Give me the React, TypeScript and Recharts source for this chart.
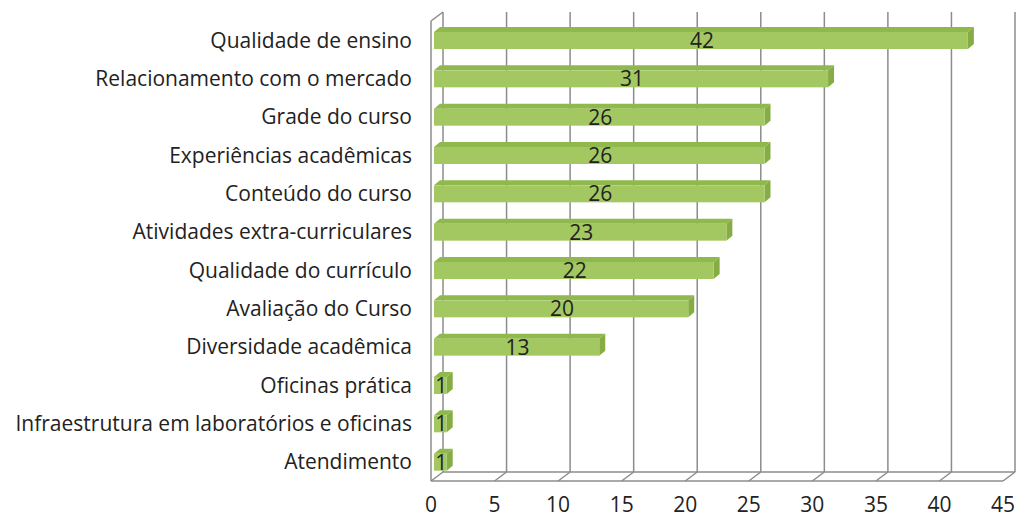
import React from 'react';
import { Bar, BarChart, CartesianGrid, LabelList, XAxis, YAxis } from 'recharts';

// --- dados ---
const categories = [
  'Qualidade de ensino',
  'Relacionamento com o mercado',
  'Grade do curso',
  'Experiências acadêmicas',
  'Conteúdo do curso',
  'Atividades extra-curriculares',
  'Qualidade do currículo',
  'Avaliação do Curso',
  'Diversidade acadêmica',
  'Oficinas prática ',
  'Infraestrutura em laboratórios e oficinas ',
  'Atendimento',
];
const values = [42, 31, 26, 26, 26, 23, 22, 20, 13, 1, 1, 1];
const xTicks = [0, 5, 10, 15, 20, 25, 30, 35, 40, 45];

const data = categories.map((name, i) => ({ name, value: values[i] }));

const FONT = '"Open Sans", Lato, sans-serif';
const GRID = '#8c8c8c';
// deslocamento da parede de fundo (efeito 3D)
const DX = 12;
const DY = 9;

// grade vertical: linha de fundo + diagonal do piso
const verticalLine = (props: any) => {
  const { x1, y1, y2, index } = props;
  return (
    <g key={`v-${index}`}>
      <line x1={x1 + DX} y1={y1 - DY} x2={x1 + DX} y2={y2 - DY} stroke={GRID} strokeWidth={1.5} />
      <line x1={x1} y1={y2} x2={x1 + DX} y2={y2 - DY} stroke={GRID} strokeWidth={1.5} />
      {index === 0 && (
        <>
          <line x1={x1} y1={y1} x2={x1} y2={y2} stroke={GRID} strokeWidth={1.5} />
          <line x1={x1} y1={y1} x2={x1 + DX} y2={y1 - DY} stroke={GRID} strokeWidth={1.5} />
        </>
      )}
    </g>
  );
};

// piso: linha frontal e de fundo
const horizontalLine = (props: any) => {
  const { x1, x2, y1, index } = props;
  return (
    <g key={`h-${index}`}>
      <line x1={x1} y1={y1} x2={x2} y2={y1} stroke={GRID} strokeWidth={1.5} />
      <line x1={x1 + DX} y1={y1 - DY} x2={x2 + DX} y2={y1 - DY} stroke={GRID} strokeWidth={1.5} />
    </g>
  );
};

// barra 3D: frente + topo + lateral
const Bar3D = (props: any) => {
  const { x, y, width, height } = props;
  if (width == null || height == null) return null;
  const d = 6;
  const dd = 5;
  const fx = x + 3;
  const fy = y;
  const w = Math.max(width, 0);
  return (
    <g>
      <polygon
        points={`${fx},${fy} ${fx + d},${fy - dd} ${fx + w + d},${fy - dd} ${fx + w},${fy}`}
        fill="#8fb94c"
      />
      <polygon
        points={`${fx + w},${fy} ${fx + w + d},${fy - dd} ${fx + w + d},${fy + height - dd} ${fx + w},${fy + height}`}
        fill="#86ad43"
      />
      <rect x={fx} y={fy} width={w} height={height} fill="#a3c861" />
    </g>
  );
};

const App: React.FC = () => {
  return (
    <div style={{ position: 'absolute', left: 0, top: 0, width: 1022, height: 521, background: '#fff' }}>
      <BarChart
        width={1022}
        height={521}
        data={data}
        layout="vertical"
        barCategoryGap={0}
        margin={{ top: 21, right: 19, bottom: 10, left: 0 }}
      >
        <CartesianGrid
          vertical={verticalLine}
          horizontal={horizontalLine}
          horizontalCoordinatesGenerator={({ offset }: any) => [offset.top + offset.height]}
        />
        <XAxis
          type="number"
          domain={[0, 45]}
          ticks={xTicks}
          interval={0}
          height={30}
          axisLine={false}
          tickLine={false}
          tickMargin={10}
          tick={{ fontSize: 21, fill: '#222', fontFamily: FONT }}
        />
        <YAxis
          type="category"
          dataKey="name"
          width={431}
          axisLine={false}
          tickLine={false}
          tickMargin={13}
          interval={0}
          tick={{ fontSize: 21, fill: '#222', fontFamily: FONT }}
        />
        <Bar dataKey="value" barSize={17} shape={Bar3D} isAnimationActive={false}>
          <LabelList
            dataKey="value"
            position="center"
            dx={4}
            fill="#222"
            fontSize={21}
            fontFamily={FONT}
          />
        </Bar>
      </BarChart>
    </div>
  );
};

export default App;
